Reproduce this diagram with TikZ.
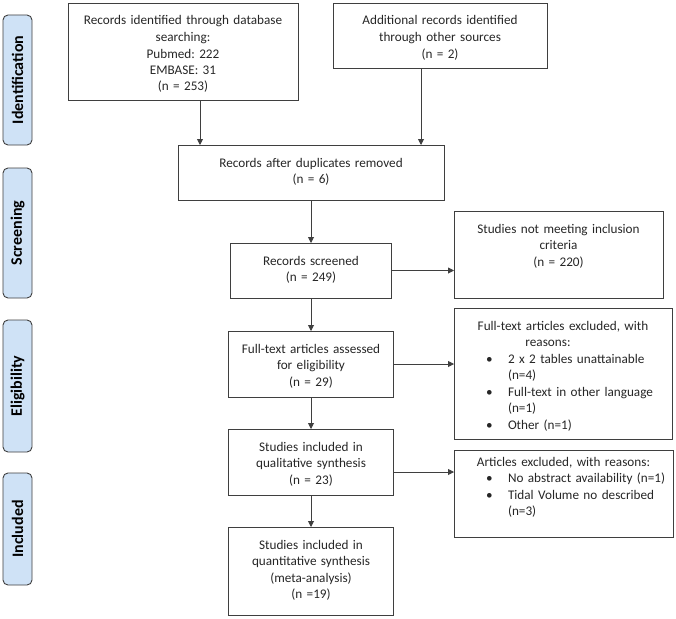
\documentclass[tikz,border=0pt]{standalone}
\usepackage{fontspec}
\setmainfont{Carlito}
\usepackage{xcolor}
\usetikzlibrary{positioning}
\usetikzlibrary{arrows.meta}
\definecolor{phasefill}{HTML}{CFE2F6}
\definecolor{edgegray}{HTML}{3F3F3F}
\frenchspacing
\newcommand{\bitem}[1]{\hspace*{29pt}\makebox[22pt][l]{\textbullet}#1}
\newcommand{\bcont}[1]{\hspace*{51pt}#1}
\newcommand{\chead}[1]{\makebox[\linewidth]{#1}}

\begin{document}
\begin{tikzpicture}[x=1pt, y=1pt, line width=0.9pt,
    arr/.style={-{Triangle[width=6pt,length=6pt]}, draw=edgegray},
    box/.style={draw=edgegray, inner xsep=3pt, inner ysep=0pt, outer sep=0pt, text height=22pt,
        align=center, text=black!85, font=\fontsize{13.2}{16.5}\selectfont},
    listbox/.style={box, align=left},
    phase/.style={draw=edgegray, fill=phasefill, rounded corners=5pt, rotate=90,
        minimum height=29pt, font=\fontsize{16}{16}\selectfont\bfseries}]
    \useasboundingbox (0,0) rectangle (676,-618);

    \node [phase, minimum width=130pt] (ident) at (17.5,-80) {Identification};
    \node [phase, minimum width=130pt] (screen) at (17.5,-233) {Screening};
    \node [phase, minimum width=132pt] (elig) at (17.5,-386) {Eligibility};
    \node [phase, minimum width=112pt] (incl) at (17.5,-529) {Included};

    \node [box, anchor=north west, text width=224pt, text depth=75pt] (db) at (68,-3)
        {Records identified through database\\ searching:\\ Pubmed: 222\\ EMBASE: 31\\ (n = 253)};
    \node [box, anchor=north west, text width=208pt, text depth=43pt] (other) at (333,-3)
        {Additional records identified\\ through other sources\\ (n = 2)};
    \node [box, anchor=north west, text width=260pt, text depth=33pt] (dup) at (178,-145)
        {Records after duplicates removed\\ (n = 6)};
    \node [box, below=43pt of dup, text width=155pt, text depth=33pt] (scr)
        {Records screened\\ (n = 249)};
    \node [box, anchor=north west, text width=203pt, text depth=65pt] (notmeet) at (454,-211)
        {Studies not meeting inclusion\\ criteria\\ (n = 220)};
    \node [box, below=33pt of scr, text width=159pt, text depth=44pt] (full)
        {Full-text articles assessed\\ for eligibility\\ (n = 29)};
    \node [listbox, anchor=north west, text width=212pt, text depth=109pt] (ftexcl) at (454,-308)
        {\chead{Full-text articles excluded, with}\\ \chead{reasons:\hspace*{30pt}}\\
         \bitem{2 x 2 tables unattainable}\\ \bcont{(n=4)}\\
         \bitem{Full-text in other language}\\ \bcont{(n=1)}\\
         \bitem{Other (n=1)}};
    \node [box, below=32pt of full, text width=159pt, text depth=44pt] (qual)
        {Studies included in\\ qualitative synthesis\\ (n = 23)};
    \node [listbox, anchor=north west, text width=213pt, text height=16pt, text depth=71pt] (artexcl) at (454,-450)
        {\chead{Articles excluded, with reasons:}\\
         \bitem{No abstract availability (n=1)}\\
         \bitem{Tidal Volume no described}\\ \bcont{(n=3)}};
    \node [box, below=32pt of qual, text width=159pt, text depth=66pt] (quant)
        {Studies included in\\ quantitative synthesis\\ (meta-analysis)\\ (n =19)};

    \draw [arr] ([xshift=17pt]db.south) -- ([xshift=17pt]db.south |- dup.north);
    \draw [arr] ([xshift=-19pt]other.south) -- ([xshift=-19pt]other.south |- dup.north);
    \draw [arr] (scr.north |- dup.south) -- (scr.north);
    \draw [arr] (scr.east) -- (scr.east -| notmeet.west);
    \draw [arr] (scr.south) -- (full.north);
    \draw [arr] (full.east) -- (full.east -| ftexcl.west);
    \draw [arr] (full.south) -- (qual.north);
    \draw [arr] ([yshift=-10pt]qual.east) -- ([yshift=-10pt]qual.east -| artexcl.west);
    \draw [arr] (qual.south) -- (quant.north);
\end{tikzpicture}
\end{document}
